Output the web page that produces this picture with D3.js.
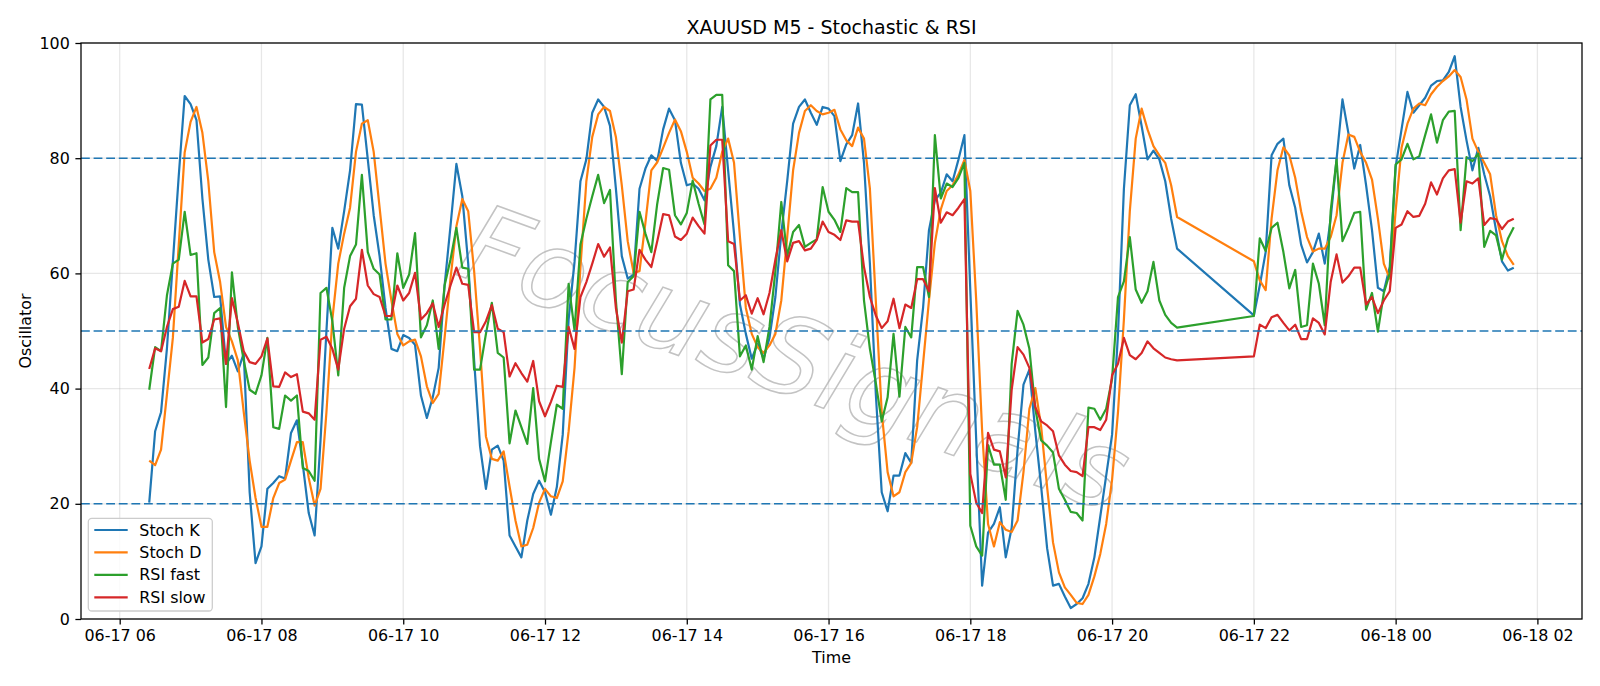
<!DOCTYPE html>
<html><head><meta charset="utf-8">
<script src="https://cdn.jsdelivr.net/npm/d3@7"></script>
<style>body{margin:0;background:#fff}svg{display:block}text{font-family:"DejaVu Sans",sans-serif;fill:#000}</style>
</head><body>
<svg id="chart" width="1600" height="686"></svg>
<script>
// ---- data ----
const titleText = "XAUUSD M5 - Stochastic & RSI";
const sessions = [
  {start: "2025-06-17T06:25:00", bars: 175},
  {start: "2025-06-17T22:00:00", bars: 45}
];
const stepMinutes = 5;
const seriesNames = ["Stoch K", "Stoch D", "RSI fast", "RSI slow"];
const seriesColors = ["#1f77b4", "#ff7f0e", "#2ca02c", "#d62728"];
const levels = [80, 50, 20];
const yTicks = [0, 20, 40, 60, 80, 100];
const watermarkText = "FocusSignals";

const stochK = [
  20.2,32.6,35.9,47,62,77,90.8,89.4,86.6,73,
  62.4,55.9,56,44.3,45.7,43,46.1,22,9.7,12.6,
  22.6,23.6,24.8,24.4,32.3,34.5,26.8,18.4,14.5,31,
  50,67.9,64.3,70.8,77.9,89.4,89.3,79.8,70.1,63,
  54,46.9,46.5,49.3,48.8,47.6,38.8,34.9,38.5,43.6,
  57.9,68.2,79,73.4,61.7,44.9,30,22.6,29.4,30.1,
  27.5,14.5,12.6,10.7,17.1,21.7,24,22,18.1,22.9,
  32,52,62,76,79.8,87.9,90.2,88.9,85.6,74.7,
  63,59.1,59.8,74.7,78.2,80.5,79.5,85,88.6,86.6,
  79.2,75.3,75.6,74.7,72.7,78.5,82.1,88.9,77.9,66.9,
  54.6,49.5,45.2,47.8,45.2,48.8,55.9,66.9,76,86,
  88.9,90.2,87.9,85.8,88.9,88.6,87.3,79.5,82.4,84,
  89.5,79.2,61.7,39.1,22,18.7,24.9,24.9,28.8,27.1,
  44.9,54,67.5,72.7,74,77.2,76,79.8,84,57,
  31,5.8,15,16.5,19.4,10.7,15.8,29.4,40.7,43.3,
  32.6,22.9,12.3,5.8,6.1,3.9,1.9,2.6,3.6,6.1,
  10.7,17.8,24.9,32,49.5,74.7,89.2,91.1,85.6,79.8,
  81.3,79.8,76,69.5,64.3,
  52.7,57.9,63.7,80.5,82.5,83.4,75.3,71.4,65,61.9,
  63.7,66.9,61.7,69.5,79.8,90.2,84.4,78.2,82.3,75.3,
  67.5,57.5,56.9,61.1,78.5,85,91.5,87.9,89.2,90.5,
  92.6,93.4,93.5,95,97.7,88.9,83.1,77.9,81.8,77.2,
  73.4,67.5,62.1,60.5,61
];
const stochD = [
  27.5,26.7,29.4,39,48.8,65,81,86.3,88.9,84.4,
  76,63.7,58.5,50.7,48.2,44.9,35.9,27.5,21,16,
  16,21,23.6,24.2,27.5,30.7,30.7,24.5,19.7,22.6,
  35.9,52,61.7,66.9,71.4,81.1,86,86.6,81.1,71.4,
  61.7,55.3,49.5,47.5,48.2,48.5,45.6,40.4,37.5,39.1,
  48.8,59.1,68.2,72.9,70.8,60.4,47,31.7,27.8,27.5,
  29.1,23,17.1,12.6,12.9,15.8,20.2,22.6,21.3,21,
  23.9,32.6,43.6,61.1,76,83.7,87.6,88.9,88.2,83.7,
  75.3,65.6,60.1,60.4,68.8,77.9,79.3,81.8,84.4,86.7,
  84.7,81.1,76.6,75.6,74.3,74.7,76.6,81.1,83.4,79.2,
  66.3,54,49.5,47.2,46.2,47.5,49.5,55.3,66.3,77.9,
  84.4,88.2,89.2,88.2,87.6,87.9,88.4,85,83.1,82.1,
  85.3,83.4,74.7,55.3,35.9,25.5,21.3,22,25.5,27.1,
  33.3,44.3,55.3,65.3,71.1,74.3,75.3,77.2,79.7,74.3,
  55.3,32.6,16.5,12.6,16.8,15.5,15.1,17.1,25.5,36.5,
  40.1,33.3,22.9,13.3,8.1,5.5,4.2,2.8,2.6,4.2,
  7.4,11.3,16.5,24.2,35.9,52,70.8,83.4,88.6,85,
  82.1,80.5,79.2,75.3,69.8,
  62.1,58.8,57.1,69.5,77.9,81.9,80.5,76.6,70.8,66.3,
  63.8,64.3,64.3,66.3,70.1,79.2,84.1,83.7,81.1,79.2,
  76.3,69.5,61.7,59.1,70.8,81.8,86,88.6,89.5,89.2,
  91.1,92.4,93.4,94.2,95.3,94.1,90.2,83.4,81.1,79.2,
  77.2,70.1,65.6,63,61.5
];
const rsiFast = [
  39.8,47.2,46.5,56.2,61.7,62.4,70.7,63.2,63.5,44.1,
  45.4,53.1,54,36.8,60.2,50.7,44.9,39.8,39.1,42.3,
  48.8,33.3,33,38.8,37.9,38.8,26.2,25.7,24,56.6,
  57.5,51.7,42.3,57.5,63,65,77.1,63.7,60.8,59.8,
  52,52,63.5,57.5,59.8,67,48.9,51,55.3,46.9,
  57.9,62.4,67.9,61,60.8,43.3,43.3,49.5,54.9,46.2,
  45.4,30.5,36.2,33.3,30.4,40.1,27.8,23.9,30.7,37.2,
  36.5,58.2,50.1,65,69.5,73.4,77.1,72.2,74.5,55.3,
  42.5,58.5,59.5,70.7,66.9,63.7,72.1,78.3,78,70.1,
  68.5,70.5,76.1,72.1,68.5,90.2,91,91,61.4,60.4,
  45.6,47.5,43.3,49.1,44.6,50.7,60.4,72.4,63,67.2,
  68.4,64.6,65.3,65.9,75,70.7,69.3,67.2,74.8,74.1,
  74.1,55.3,46.9,41,34.3,38.5,49.5,38.6,50.7,48.9,
  61.1,61.1,55.9,84,73,75.6,75,76.6,79.2,16.2,
  12.6,11,30.2,26.8,26.8,20.7,44.3,53.5,51.1,46.9,
  36.5,31,30.1,28.9,22.6,20.7,18.6,18.4,17.1,36.7,
  36.5,34.6,36.5,41.7,55.9,58.6,66.3,57.2,54.9,56.9,
  62,55.3,52.8,51.4,50.6,
  52.6,66.1,63.9,67.9,68.8,63.7,57.4,60.6,50.7,51,
  61.7,58.2,51,70.8,79.8,65.6,67.9,70.5,70.7,53.7,
  56.6,49.9,56.6,60,78.9,79.8,82.5,79.8,80.3,84,
  87.6,82.7,86.6,88.1,88.2,67.5,80.2,79.5,80.8,64.6,
  67.4,66.6,62.4,66,68
];
const rsiSlow = [
  43.4,47,46.5,50.7,53.8,54.2,58.7,56,56,48,
  48.6,52,52.2,44.3,55.7,51.4,46.5,44.6,44.3,45.6,
  48.7,40.4,40.3,42.8,42,42.5,36,35.7,34.6,48.5,
  49,46.9,43.3,50.4,54.3,55.6,64.1,57.9,56.4,55.9,
  52.6,52.6,57.9,55.3,56.6,60.1,52,53.1,54.8,50.7,
  54.6,57.9,61,58.2,58,49.8,49.8,51.7,54.5,50.4,
  49.8,42.1,44.4,42.7,41.2,44.8,37.8,35.2,37.7,40.5,
  40.3,50.7,46.9,55.9,58.5,61.7,65.1,62.9,64.5,54,
  48,56.9,57.2,64.1,62.4,61.1,65.6,70.3,70.1,66.4,
  65.8,66.9,69.7,68.2,66.9,82.2,83.2,83.2,65.6,65.1,
  55.3,56.2,53,55.7,52.9,56.6,62.4,67.5,62.1,65.3,
  65.6,64,64.3,65.8,69,67.2,66.7,65.8,69.2,69,
  69,61.1,55.9,52.7,50.5,51.7,55.6,50.5,54.6,54,
  59,59,56.9,74.8,68.8,70.6,70.1,71.4,72.9,25.2,
  20.2,18.4,32.3,29.4,29.1,24.6,39.8,47.2,45.9,43.6,
  36.8,34.3,33.6,32.6,28.4,26.8,25.7,25.5,24.8,33.3,
  33.3,32.8,34.6,42.3,44.3,48.8,45.8,45.1,46.2,48.2,
  47,46.2,45.4,45.1,44.9,
  45.6,51.1,50.5,52.4,52.8,51.4,50.1,51.1,48.6,48.6,
  52.2,51.4,49.4,58.5,63.3,58.4,59.5,61,61,54.6,
  55.9,53.1,55.3,56.9,67.9,68.5,70.8,69.8,70,72.1,
  75.8,73.7,76.5,77.9,78.1,68.8,76,75.6,76.5,68.4,
  69.6,69.4,67.7,69,69.5
];

// ---- build ----
const times = [];
sessions.forEach(s => {
  const t0 = new Date(s.start);
  for (let k = 0; k < s.bars; k++) times.push(d3.timeMinute.offset(t0, stepMinutes * k));
});
const allSeries = [stochK, stochD, rsiFast, rsiSlow];

const svg = d3.select("#chart");
const M = {left: 81, right: 1582, top: 43, bottom: 619};
const ext = d3.extent(times);
const span = ext[1] - ext[0];
const x = d3.scaleTime()
  .domain([new Date(+ext[0] - 0.05 * span), new Date(+ext[1] + 0.05 * span)])
  .range([M.left, M.right]);
const y = d3.scaleLinear().domain([0, 100]).range([M.bottom, M.top]);

const xTicks = x.ticks(d3.timeHour.every(2));
const fmt = d3.timeFormat("%m-%d %H");

// grid
const grid = svg.append("g");
grid.selectAll(".gx").data(xTicks).join("line")
  .attr("x1", d => x(d)).attr("x2", d => x(d))
  .attr("y1", M.top).attr("y2", M.bottom)
  .attr("stroke", "#b0b0b0").attr("stroke-opacity", 0.3).attr("stroke-width", 1.27);
grid.selectAll(".gy").data(yTicks).join("line")
  .attr("x1", M.left).attr("x2", M.right)
  .attr("y1", d => y(d)).attr("y2", d => y(d))
  .attr("stroke", "#b0b0b0").attr("stroke-opacity", 0.3).attr("stroke-width", 1.27);

// watermark
svg.append("text")
  .attr("transform", "translate(795,358) rotate(20)")
  .attr("text-anchor", "middle").attr("dominant-baseline", "central")
  .style("font-family", "'DejaVu Sans', sans-serif")
  .style("font-style", "italic").style("font-size", "108px").style("font-weight", "300")
  .style("fill", "none").style("stroke", "#aaaaaa").style("stroke-width", 1.5)
  .style("opacity", 0.7)
  .text(watermarkText);

// series
const line = d3.line().x((d, i) => x(times[i])).y(d => y(d));
allSeries.forEach((s, k) => {
  svg.append("path").datum(s)
    .attr("d", line)
    .attr("fill", "none").attr("stroke", seriesColors[k])
    .attr("stroke-width", 2.2).attr("stroke-linejoin", "round");
});

// level lines
svg.selectAll(".lvl").data(levels).join("line")
  .attr("x1", M.left).attr("x2", M.right)
  .attr("y1", d => y(d)).attr("y2", d => y(d))
  .attr("stroke", "#1f77b4").attr("stroke-width", 1.6)
  .attr("stroke-dasharray", "8.8,3.8");

// axes
const xAxis = svg.append("g").attr("transform", `translate(0,${M.bottom})`)
  .call(d3.axisBottom(x).tickValues(xTicks).tickFormat(fmt).tickSize(5.6).tickPadding(5.6));
const yAxis = svg.append("g").attr("transform", `translate(${M.left},0)`)
  .call(d3.axisLeft(y).tickValues(yTicks).tickFormat(d3.format("d")).tickSize(5.6).tickPadding(5.6));
[xAxis, yAxis].forEach(g => {
  g.select(".domain").remove();
  g.selectAll(".tick line").attr("stroke", "#000").attr("stroke-width", 1.27);
  g.selectAll(".tick text").style("font-size", "15.9px").style("font-family", "'DejaVu Sans', sans-serif").attr("fill", "#000");
});
// frame
svg.append("rect").attr("x", M.left).attr("y", M.top)
  .attr("width", M.right - M.left).attr("height", M.bottom - M.top)
  .attr("fill", "none").attr("stroke", "#000").attr("stroke-width", 1.27);

// labels
svg.append("text").attr("x", (M.left + M.right) / 2).attr("y", 33.5)
  .attr("text-anchor", "middle").style("font-size", "19px").text(titleText);
svg.append("text").attr("x", (M.left + M.right) / 2).attr("y", 663)
  .attr("text-anchor", "middle").style("font-size", "15.9px").text("Time");
svg.append("text").attr("transform", `translate(31,${(M.top + M.bottom) / 2}) rotate(-90)`)
  .attr("text-anchor", "middle").style("font-size", "15.9px").text("Oscillator");

// legend
const lg = svg.append("g");
lg.append("rect").attr("x", 88.3).attr("y", 518.3).attr("width", 124).attr("height", 92.7)
  .attr("rx", 3.5).attr("fill", "#fff").attr("fill-opacity", 0.8)
  .attr("stroke", "#cccccc").attr("stroke-width", 1.27);
seriesNames.forEach((n, k) => {
  const yy = 530 + k * 22.45;
  lg.append("line").attr("x1", 94.3).attr("x2", 127.7).attr("y1", yy).attr("y2", yy)
    .attr("stroke", seriesColors[k]).attr("stroke-width", 2.2);
  lg.append("text").attr("x", 139.3).attr("y", yy).attr("dominant-baseline", "central")
    .style("font-size", "15.9px").text(n);
});
</script>
</body></html>
